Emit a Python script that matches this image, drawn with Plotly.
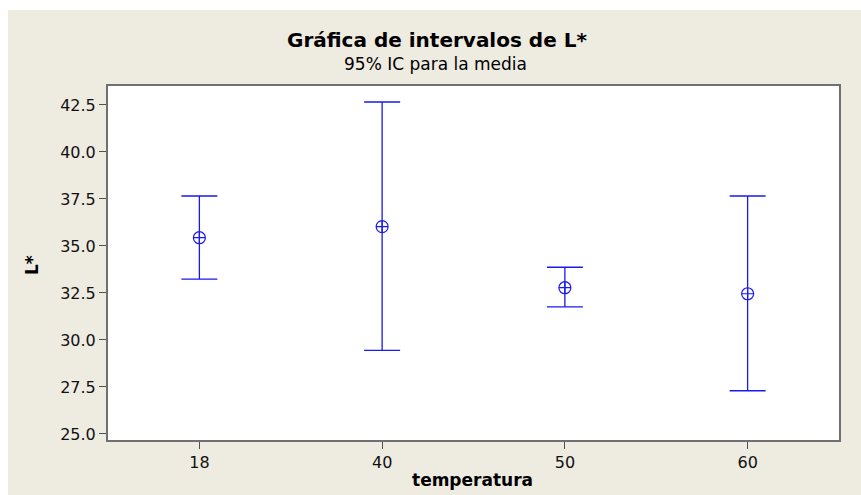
import plotly.graph_objects as go

categories = ["18", "40", "50", "60"]
means = [35.44, 36.03, 32.78, 32.46]
upper = [37.66, 42.66, 33.87, 37.66]
lower = [33.24, 29.45, 31.76, 27.30]
y_ticks = [25.0, 27.5, 30.0, 32.5, 35.0, 37.5, 40.0, 42.5]

err_plus = [u - m for u, m in zip(upper, means)]
err_minus = [m - l for m, l in zip(means, lower)]

W, H = 861, 495
L, R, T, B = 108, 22, 86, 55
pw = W - L - R
ph = H - T - B

def px(x):  # page x -> paper
    return (x - L) / pw

def py(y):  # page y -> paper
    return (H - B - y) / ph

BEIGE = "#EEEBE1"
BLUE = "#1A1AF0"
FONT = "DejaVu Sans"

fig = go.Figure()
fig.add_trace(go.Scatter(
    x=categories, y=means, mode="markers",
    marker=dict(symbol="circle-cross-open", size=12, color=BLUE, line=dict(width=1.2, color=BLUE)),
    error_y=dict(type="data", symmetric=False, array=err_plus, arrayminus=err_minus,
                 width=18, thickness=1.3, color=BLUE),
    showlegend=False,
))

fig.update_layout(
    width=W, height=H,
    margin=dict(l=L, r=R, t=T, b=B, pad=0),
    paper_bgcolor=BEIGE,
    plot_bgcolor="white",
    font=dict(family=FONT, size=16, color="#111111"),
    xaxis=dict(type="category", categoryorder="array", categoryarray=categories,
               range=[-0.5, 3.5], showline=True, mirror=True, linecolor="#707070", linewidth=2,
               ticks="outside", ticklen=7, tickcolor="#505050", tickwidth=1,
               showgrid=False, zeroline=False, tickfont=dict(family=FONT, size=16)),
    yaxis=dict(range=[24.68, 43.51], tickvals=y_ticks, tickformat=".1f",
               showline=True, mirror=True, linecolor="#707070", linewidth=2,
               ticks="outside", ticklen=7, tickcolor="#505050", tickwidth=1,
               showgrid=False, zeroline=False, tickfont=dict(family=FONT, size=16)),
    shapes=[
        dict(type="rect", xref="paper", yref="paper", layer="below",
             x0=px(-5), x1=px(870), y0=py(10), y1=py(-5),
             fillcolor="white", line=dict(width=0)),
        dict(type="rect", xref="paper", yref="paper", layer="below",
             x0=px(-5), x1=px(8), y0=py(500), y1=py(-5),
             fillcolor="white", line=dict(width=0)),
    ],
    annotations=[
        dict(text="<b>Gráfica de intervalos de L*</b>", xref="paper", yref="paper",
             x=px(437), y=py(40), showarrow=False, xanchor="center", yanchor="middle",
             font=dict(family=FONT, size=20, color="#000000")),
        dict(text="95% IC para la media", xref="paper", yref="paper",
             x=px(435), y=py(64), showarrow=False, xanchor="center", yanchor="middle",
             font=dict(family=FONT, size=17, color="#000000")),
        dict(text="<b>L*</b>", xref="paper", yref="paper", textangle=-90,
             x=px(32), y=py(265), showarrow=False, xanchor="center", yanchor="middle",
             font=dict(family=FONT, size=17, color="#000000")),
        dict(text="<b>temperatura</b>", xref="paper", yref="paper",
             x=px(472), y=py(480), showarrow=False, xanchor="center", yanchor="middle",
             font=dict(family=FONT, size=17, color="#000000")),
    ],
)

fig.write_html(
    "out.html",
    config={"displayModeBar": False},
    post_script="document.body.style.margin='0';document.body.style.overflow='hidden';",
)
